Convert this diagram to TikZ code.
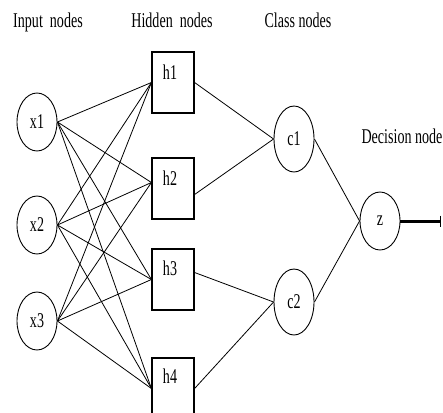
\documentclass[tikz,border=0pt]{standalone}
\usepackage{fontspec}
\setmainfont{Liberation Serif}
\usetikzlibrary{shapes.geometric,arrows.meta,calc}
\newcommand\cond[1]{\scalebox{0.67}[1]{#1}}
\begin{document}
\begin{tikzpicture}[x=1pt,y=-1pt,
  every node/.style={font=\fontsize{21}{24}\selectfont},
  oval/.style={draw,ellipse,line width=0.9pt,inner sep=0pt,minimum width=40pt,minimum height=58pt},
  cls/.style={oval,minimum height=66pt},
  hbox/.style={draw,rectangle,line width=1.2pt,inner sep=0pt,minimum width=42pt,minimum height=61pt},
  lab/.style={inner sep=0pt},
  edge/.style={line width=0.8pt}]
\useasboundingbox (0,0) rectangle (443,412);
\clip (0,0) rectangle (443,412);
% headings
\node[lab,anchor=base] (t1) at (48,28) {\cond{Input\ \ nodes}};
\node[lab,anchor=base] (t2) at (172,28) {\cond{Hidden\ \ nodes}};
\node[lab,anchor=base] (t3) at (298,28) {\cond{Class nodes}};
\node[lab,anchor=base] (t4) at (402,143) {\cond{Decision node}};
% input
\node[oval] (x1) at (37,122) {\cond{x1}};
\node[oval] (x2) at (37,225) {\cond{x2}};
\node[oval] (x3) at (37,321) {\cond{x3}};
% hidden
\node[hbox] (h1) at (173,82.5) {};
\node[hbox] (h2) at (173,188.5) {};
\node[hbox] (h3) at (173,279.5) {};
\node[hbox] (h4) at (173,388.5) {};
\node[lab] (l1) at (170,72) {\cond{h1}};
\node[lab] (l2) at (170,178) {\cond{h2}};
\node[lab] (l3) at (170,268) {\cond{h3}};
\node[lab] (l4) at (170,376) {\cond{h4}};
% class
\node[cls] (c1) at (294,139) {\cond{c1}};
\node[cls] (c2) at (294,302) {\cond{c2}};
% decision
\node[oval] (z) at (380,221) {\cond{z}};
\coordinate (zend) at (441,221);
% input -> hidden
\foreach \i in {x1,x2,x3}{
  \draw[edge] (\i.east) -- (h1.west);
  \draw[edge] (\i.east) -- ($(h2.west)+(0,-6)$);
  \draw[edge] (\i.east) -- (h3.west);
  \draw[edge] (\i.east) -- (h4.west);
}
% hidden -> class
\draw[edge] (h1.east) -- (c1.west);
\draw[edge] ($(h2.east)+(0,6)$) -- (c1.west);
\draw[edge] ($(h3.east)+(0,-7)$) -- (c2.west);
\draw[edge] (h4.east) -- (c2.west);
% class -> decision
\draw[edge] (c1.east) -- (z.west);
\draw[edge] (c2.east) -- (z.west);
% output
\draw[line width=3pt,-{Bar[width=11pt,line width=1.5pt]}] (z.east) -- (zend);
\end{tikzpicture}
\end{document}
